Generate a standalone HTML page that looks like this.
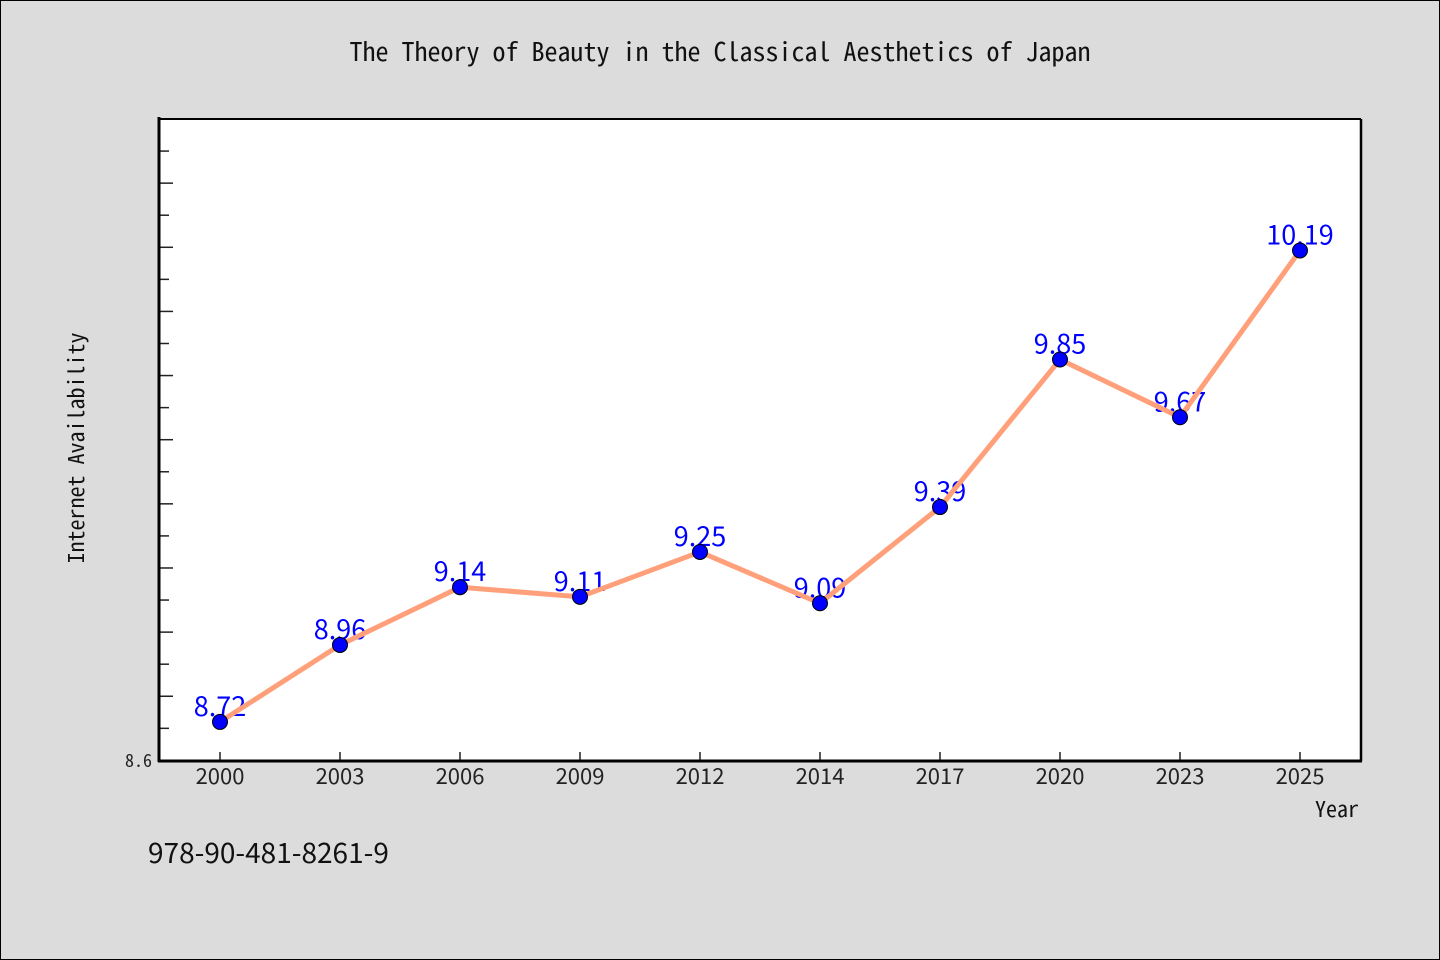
<!DOCTYPE html>
<html><head><meta charset="utf-8"><style>
body{margin:0;background:#dcdcdc;}
svg{display:block;font-family:"WenQuanYi Zen Hei Mono","Noto Sans Mono CJK JP","WenQuanYi Zen Hei","Liberation Mono",monospace;}
.sans{font-family:"WenQuanYi Zen Hei","Noto Sans CJK JP","Liberation Sans",sans-serif;}
</style></head><body>
<svg width="1440" height="960" viewBox="0 0 1440 960">
<rect x="0.5" y="0.5" width="1439" height="959" fill="#dcdcdc" stroke="#000"/>
<text x="720" y="61" text-anchor="middle" font-size="26" fill="#111">The Theory of Beauty in the Classical Aesthetics of Japan</text>
<rect x="159" y="119" width="1202" height="642" fill="#fff"/>
<g id="ticks"></g>
<g id="labels" class="sans"></g>
<path id="line" fill="none" stroke="#ffa07a" stroke-width="5"/>
<g id="pts"></g>
<line x1="159" y1="119" x2="1361" y2="119" stroke="#000" stroke-width="2"/>
<line x1="1361" y1="119" x2="1361" y2="761" stroke="#000" stroke-width="2.5"/>
<line x1="159" y1="117" x2="159" y2="762" stroke="#000" stroke-width="3"/>
<line x1="158" y1="761" x2="1362" y2="761" stroke="#000" stroke-width="3"/>
<text x="152" y="767" text-anchor="end" font-size="18" fill="#222">8.6</text>
<text transform="translate(84,448) rotate(-90)" text-anchor="middle" font-size="22" fill="#111">Internet Availability</text>
<text x="1359" y="817" text-anchor="end" font-size="22" fill="#111">Year</text>
<text x="148" y="863" font-size="28" fill="#111" class="sans">978-90-481-8261-9</text>
</svg>
<script>
const categories=["2000","2003","2006","2009","2012","2014","2017","2020","2023","2025"];
const values=[8.72,8.96,9.14,9.11,9.25,9.09,9.39,9.85,9.67,10.19];
const yMin=8.6,yMax=10.6;
(function(){
const NS="http://www.w3.org/2000/svg";
const x0=220,dx=120,pTop=119,pBot=760.4;
function xs(i){return x0+i*dx;}
function ys(v){return pBot-(v-yMin)/(yMax-yMin)*(pBot-pTop);}
function mk(t,a,p){const e=document.createElementNS(NS,t);for(const k in a)e.setAttribute(k,a[k]);p.appendChild(e);return e;}
const tg=document.getElementById('ticks');
for(let k=1;k<20;k++){const v=yMin+k*0.1;const y=ys(v);
 const t=mk('line',{x1:160,x2:k%2==0?173:169,y1:y,y2:y,stroke:'#222','stroke-width':1.5},tg);
 
 }
categories.forEach((c,i)=>{
 const t=mk('line',{x1:xs(i),x2:xs(i),y1:760,y2:752,stroke:'#222','stroke-width':1.5},tg);
 
 
 const l=mk('text',{x:xs(i),y:784,'text-anchor':'middle','font-size':22,fill:'#222','class':'sans'},tg);
 l.textContent=c;
 
 
});
const lg=document.getElementById('labels');
values.forEach((v,i)=>{
 const l=mk('text',{x:xs(i),y:ys(v)-6,'text-anchor':'middle','font-size':27,fill:'#0000ff'},lg);
 l.textContent=v.toFixed(2);
 
 
});
document.getElementById('line').setAttribute('d',values.map((v,i)=>(i?'L':'M')+xs(i)+','+ys(v)).join(''));
const pg=document.getElementById('pts');
values.forEach((v,i)=>{
 const c=mk('circle',{cx:xs(i),cy:ys(v),r:7.5,fill:'#0000ff',stroke:'#000','stroke-width':1},pg);
 
 
});
})();
</script>
</body></html>
